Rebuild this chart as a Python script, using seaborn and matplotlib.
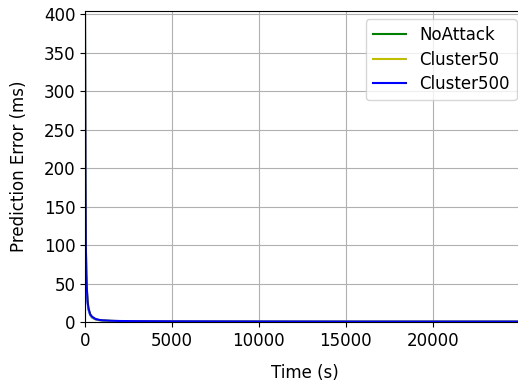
import numpy as np
import pandas as pd
import seaborn as sns
import matplotlib.pyplot as plt

# time stamps (s) and prediction error (ms)
time_s = [0, 10, 25, 50, 75, 100, 150, 200, 300, 400, 600, 800, 1000, 1500,
          2000, 3000, 5000, 10000, 15000, 20000, 25300]
no_attack = [395, 300, 180, 95, 60, 42, 25, 16, 9, 6, 3.5, 2.5, 2, 1.4,
             1.1, 0.9, 0.7, 0.5, 0.4, 0.4, 0.4]
cluster50 = [398, 305, 185, 98, 62, 44, 26, 17, 9.5, 6.5, 3.7, 2.6, 2.1, 1.5,
             1.2, 1.0, 0.8, 0.6, 0.5, 0.5, 0.5]
cluster500 = [400, 310, 190, 100, 65, 46, 27, 18, 10, 7, 4, 2.8, 2.2, 1.6,
              1.3, 1.1, 0.9, 0.7, 0.6, 0.6, 0.6]

series = {'NoAttack': no_attack, 'Cluster50': cluster50, 'Cluster500': cluster500}
df = pd.concat([pd.DataFrame({'Time': time_s, 'Error': v, 'Run': k})
                for k, v in series.items()])

plt.rcParams['font.size'] = 12
fig = plt.figure(figsize=(5.18, 3.85), dpi=100)
# axes run a little past the right edge of the figure, as in the reference
ax = fig.add_axes([85 / 518, 63 / 385, 440 / 518, 311 / 385])

sns.lineplot(data=df, x='Time', y='Error', hue='Run',
             palette={'NoAttack': 'g', 'Cluster50': 'y', 'Cluster500': 'b'},
             linewidth=1.5, ax=ax)

ax.set_xlim(0, 25300)
ax.set_ylim(0, 404)
ax.set_yticks(np.arange(0, 401, 50))
ax.set_xticks([0, 5000, 10000, 15000, 20000])
ax.grid(True, color='#b0b0b0', linewidth=0.8)
ax.set_xlabel('Time (s)', labelpad=10)
ax.set_ylabel('Prediction Error (ms)', labelpad=11)
ax.legend(title=None, loc='upper right', labelspacing=0.4)

fig.savefig('out.png', dpi=100)
